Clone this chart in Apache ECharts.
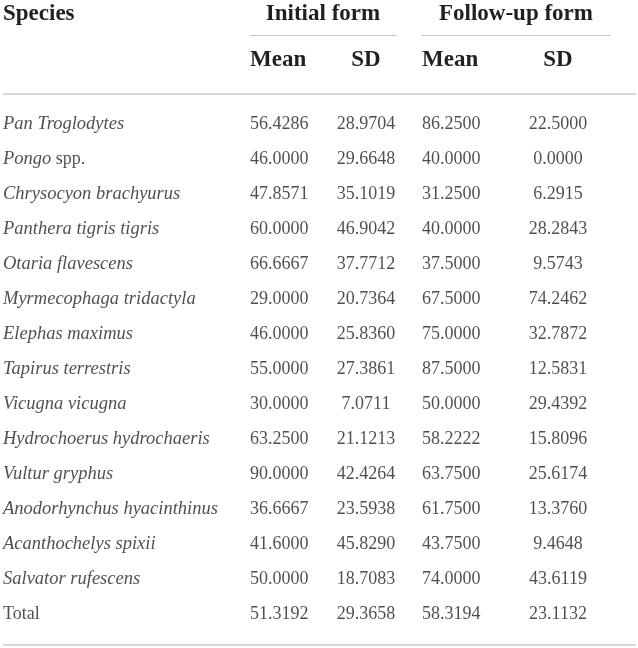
<!DOCTYPE html>
<html>
<head>
<meta charset="utf-8">
<script src="https://cdn.jsdelivr.net/npm/echarts@6/dist/echarts.min.js"></script>
<style>
  html, body { margin: 0; padding: 0; background: #fff; }
  #main { width: 638px; height: 648px; }
</style>
</head>
<body>
<div id="main"></div>
<script>
// table content
var species = [
  'Pan Troglodytes', 'Pongo spp.', 'Chrysocyon brachyurus', 'Panthera tigris tigris',
  'Otaria flavescens', 'Myrmecophaga tridactyla', 'Elephas maximus', 'Tapirus terrestris',
  'Vicugna vicugna', 'Hydrochoerus hydrochaeris', 'Vultur gryphus',
  'Anodorhynchus hyacinthinus', 'Acanthochelys spixii', 'Salvator rufescens', 'Total'
];
var initMean = [56.4286, 46.0000, 47.8571, 60.0000, 66.6667, 29.0000, 46.0000, 55.0000,
  30.0000, 63.2500, 90.0000, 36.6667, 41.6000, 50.0000, 51.3192];
var initSD = [28.9704, 29.6648, 35.1019, 46.9042, 37.7712, 20.7364, 25.8360, 27.3861,
  7.0711, 21.1213, 42.4264, 23.5938, 45.8290, 18.7083, 29.3658];
var followMean = [86.2500, 40.0000, 31.2500, 40.0000, 37.5000, 67.5000, 75.0000, 87.5000,
  50.0000, 58.2222, 63.7500, 61.7500, 43.7500, 74.0000, 58.3194];
var followSD = [22.5000, 0.0000, 6.2915, 28.2843, 9.5743, 74.2462, 32.7872, 12.5831,
  29.4392, 15.8096, 25.6174, 13.3760, 9.4648, 43.6119, 23.1132];
var groupTitles = ['Initial form', 'Follow-up form'];
var colTitles = ['Mean', 'SD', 'Mean', 'SD'];

// layout (column anchors on the x value axis, px)
var colX = [3, 250, 366, 422, 558];
var FONT = '"Liberation Serif", "DejaVu Serif", serif';
var INK = '#231f20';

var chart = echarts.init(document.getElementById('main'));

function speciesLabel(name) {
  if (name === 'Total') return '{n|Total}';
  if (name.indexOf(' spp.') > 0) return '{i|' + name.replace(' spp.', '') + '}{n| spp.}';
  return '{i|' + name + '}';
}

function column(idx, values, align, isName) {
  return {
    type: 'scatter',
    symbolSize: 0,
    silent: true,
    data: values.map(function (v, i) { return [colX[idx], species[i], v]; }),
    label: {
      show: true,
      position: 'inside',
      align: align,
      verticalAlign: 'middle',
      fontFamily: FONT,
      fontSize: 18,
      color: INK,
      formatter: function (p) {
        return isName ? speciesLabel(p.value[2]) : p.value[2].toFixed(4);
      },
      rich: {
        i: { fontFamily: FONT, fontSize: 18.5, fontStyle: 'italic', color: INK },
        n: { fontFamily: FONT, fontSize: 18, color: INK }
      }
    }
  };
}

function headText(x, y, text, align) {
  return {
    type: 'text', x: x, y: y,
    style: {
      text: text, fontFamily: FONT, fontSize: 23, fontWeight: 'bold',
      fill: INK, align: align, verticalAlign: 'middle'
    }
  };
}

function hline(x1, x2, y, w, c) {
  return {
    type: 'line',
    shape: { x1: x1, y1: y, x2: x2, y2: y },
    style: { stroke: c, lineWidth: w }
  };
}

chart.setOption({
  backgroundColor: '#fff',
  animation: false,
  grid: { left: 0, right: 0, top: 107, bottom: 16 },
  xAxis: { type: 'value', min: 0, max: 638, show: false },
  yAxis: { type: 'category', data: species, inverse: true, show: false },
  graphic: [
    headText(3, 14, 'Species', 'left'),
    headText(323, 14, groupTitles[0], 'center'),
    headText(516, 14, groupTitles[1], 'center'),
    hline(250, 397, 35.5, 1, '#c8c8c8'),
    hline(422, 610, 35.5, 1, '#c8c8c8'),
    headText(colX[1], 60, colTitles[0], 'left'),
    headText(colX[2], 60, colTitles[1], 'center'),
    headText(colX[3], 60, colTitles[2], 'left'),
    headText(colX[4], 60, colTitles[3], 'center'),
    hline(3, 636, 94, 1.5, '#c8c8c8'),
    hline(3, 636, 645, 1.5, '#c8c8c8')
  ],
  series: [
    column(0, species, 'left', true),
    column(1, initMean, 'left'),
    column(2, initSD, 'center'),
    column(3, followMean, 'left'),
    column(4, followSD, 'center')
  ]
});
</script>
</body>
</html>
